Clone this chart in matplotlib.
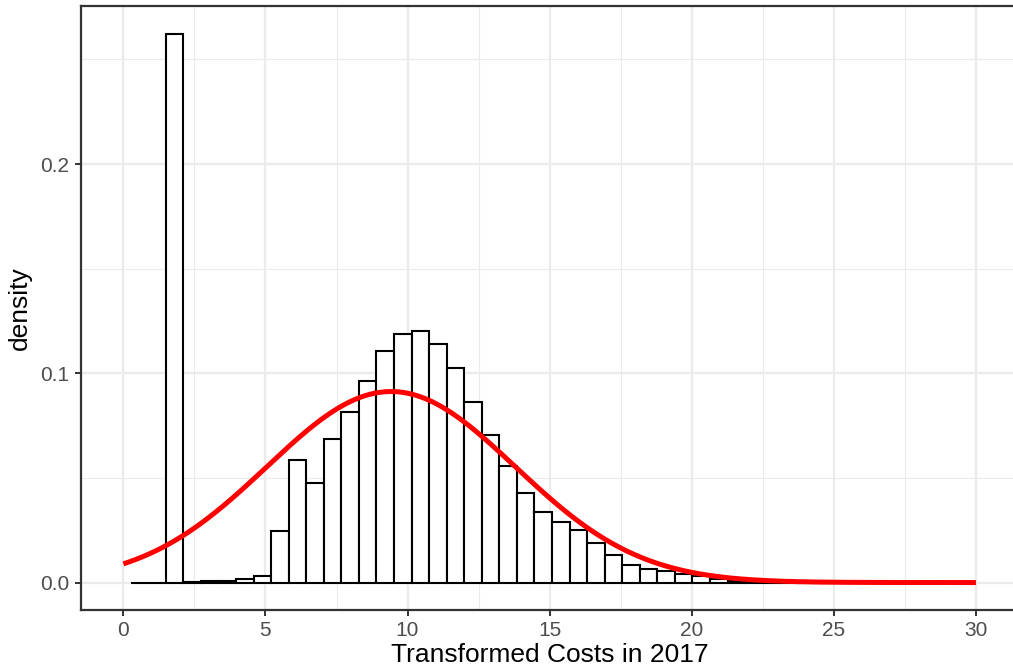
import numpy as np
import matplotlib.pyplot as plt

# =========================
# DATA
# =========================
# histogram: 40 bins starting at 0.257, width 0.6177
bin_start = 0.257
bin_width = 0.6177
density = [
    0.0, 0.0, 0.2622, 0.0002, 0.0006, 0.0009, 0.0017, 0.0029,
    0.0248, 0.0587, 0.0474, 0.0688, 0.0816, 0.0963, 0.1106, 0.1186,
    0.1202, 0.1142, 0.1025, 0.0864, 0.0704, 0.0557, 0.0426, 0.0339,
    0.0288, 0.0253, 0.0188, 0.0131, 0.0083, 0.0067, 0.0053, 0.0043,
    0.0031, 0.0018, 0.0008, 0.0004, 0.0002, 0.0001, 0.0001, 0.0001,
]

# fitted normal overlay
fit_mean = 9.42
fit_sd = 4.37
curve_from, curve_to = 0, 30

x_ticks = [0, 5, 10, 15, 20, 25, 30]
y_ticks = [0.0, 0.1, 0.2]
y_labels = ["0.0", "0.1", "0.2"]

# =========================
# PLOT
# =========================
plt.rcParams['font.family'] = ['Liberation Sans', 'DejaVu Sans']

fig = plt.figure(figsize=(10.13, 6.70), dpi=100)
ax = fig.add_axes([0.0797, 0.0896, 0.9258, 0.9007])

lefts = bin_start + bin_width * np.arange(len(density))
ax.bar(lefts, density, width=bin_width, align="edge",
       facecolor="white", edgecolor="black", linewidth=1.5, zorder=3)

xs = np.linspace(curve_from, curve_to, 400)
ys = np.exp(-0.5 * ((xs - fit_mean) / fit_sd) ** 2) / (fit_sd * np.sqrt(2 * np.pi))
ax.plot(xs, ys, color="red", linewidth=3.6, solid_capstyle="butt", zorder=4)

ax.set_xlim(-1.5, 31.5)
ax.set_ylim(-0.0131, 0.2753)

ax.set_xticks(x_ticks)
ax.set_xticks([2.5, 7.5, 12.5, 17.5, 22.5, 27.5], minor=True)
ax.set_yticks(y_ticks)
ax.set_yticklabels(y_labels)
ax.set_yticks([0.05, 0.15, 0.25], minor=True)

ax.grid(which="major", color="#EBEBEB", linewidth=1.6, zorder=0)
ax.grid(which="minor", color="#EBEBEB", linewidth=0.8, zorder=0)
ax.set_axisbelow(True)

for s in ax.spines.values():
    s.set_color("#333333")
    s.set_linewidth(1.6)

ax.tick_params(which="major", length=4.5, width=1.4, color="#333333",
               labelsize=15, labelcolor="#4D4D4D", pad=3.5)
ax.tick_params(which="minor", length=0)

ax.set_xlabel("Transformed Costs in 2017", fontsize=19, color="black", labelpad=2)
ax.set_ylabel("density", fontsize=19, color="black", labelpad=6)

fig.savefig("out.png", dpi=100)
